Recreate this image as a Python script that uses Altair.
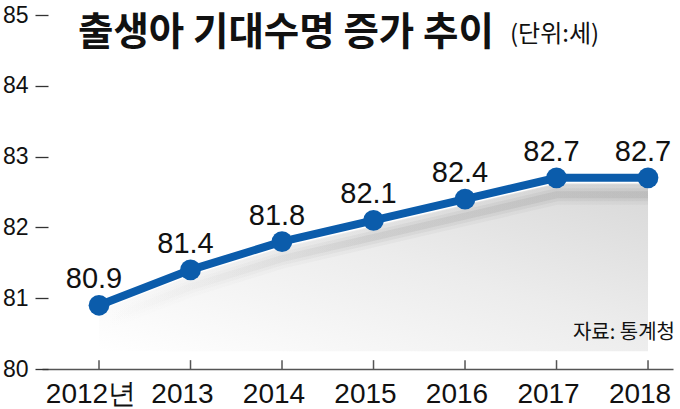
import altair as alt
import pandas as pd

years = [2012, 2013, 2014, 2015, 2016, 2017, 2018]
values = [80.9, 81.4, 81.8, 82.1, 82.4, 82.7, 82.7]
xlabels = ["2012년", "2013", "2014", "2015", "2016", "2017", "2018"]
yticks = [80, 81, 82, 83, 84, 85]

df = pd.DataFrame({"year": years, "value": values, "xlabel": xlabels})

BLUE = "#0b5cab"
NUMFONT = "Liberation Sans"
KFONT = "Noto Sans CJK KR"

xs = alt.Scale(domain=[2011.377, 2018.273], nice=False, zero=False)
ys = alt.Scale(domain=[80, 85], nice=False, zero=False)

xaxis = alt.Axis(labels=False, ticks=False, domain=True, grid=False,
                 domainColor="#555555", domainWidth=1.5, title=None)
yaxis = alt.Axis(values=yticks, domain=False, grid=False, ticks=True,
                 tickSize=13, tickColor="#333333", tickWidth=1.3, tickOpacity=1,
                 labelFont=NUMFONT, labelFontSize=23, labelColor="#111111",
                 labelPadding=7, offset=-6, title=None)

def X():
    return alt.X("year:Q", scale=xs, axis=xaxis)

def Y(field):
    return alt.Y(field, scale=ys, axis=yaxis)

base = alt.Chart(df)

area = base.transform_calculate(
    top="datum.value - 0.08", bot="80.25"
).mark_area(
    fill=alt.Gradient(
        gradient="linear", x1=1, y1=0, x2=0, y2=1,
        stops=[alt.GradientStop(color="#d8d8d8", offset=0),
               alt.GradientStop(color="#ececec", offset=0.45),
               alt.GradientStop(color="#ffffff", offset=1)],
    )
).encode(x=X(), y=Y("top:Q"), y2="bot:Q")

def shadow(width, opacity):
    return base.transform_calculate(sv="datum.value - 0.24").mark_line(
        stroke=alt.Gradient(
            gradient="linear", x1=0, y1=0, x2=1, y2=0,
            stops=[alt.GradientStop(color="#ffffff", offset=0),
                   alt.GradientStop(color="#888888", offset=0.5),
                   alt.GradientStop(color="#777777", offset=1)],
        ),
        strokeWidth=width, opacity=opacity, strokeCap="butt",
    ).encode(x=X(), y=Y("sv:Q"))

shadows = [shadow(20, 0.07), shadow(13, 0.1), shadow(7, 0.14)]

line = base.mark_line(color=BLUE, strokeWidth=8).encode(x=X(), y=Y("value:Q"))

points = base.mark_circle(size=430, color=BLUE, opacity=1).encode(
    x=X(), y=Y("value:Q")
)

labels = base.mark_text(
    font=NUMFONT, fontSize=29, color="#111111", baseline="alphabetic",
    align="center", dy=-17, dx=-5,
).encode(
    x=X(), y=Y("value:Q"),
    text=alt.Text("value:Q", format=".1f"),
)

xticks = base.transform_calculate(t0="80", t1="80.125").mark_rule(
    color="#555555", strokeWidth=1.5
).encode(x=X(), y=Y("t0:Q"), y2="t1:Q")

xlab = base.mark_text(
    font=NUMFONT, fontSize=28, color="#111111", baseline="alphabetic",
    align="center", dx=-8,
).encode(x=X(), y=alt.value(388), text="xlabel:N")

title = alt.Chart(pd.DataFrame({"t": ["출생아 기대수명 증가 추이"]})).mark_text(
    font=KFONT, fontSize=38.5, fontWeight="bold", color="#111111",
    align="left", baseline="alphabetic",
).encode(x=alt.value(36), y=alt.value(30), text="t:N")

unit = alt.Chart(pd.DataFrame({"t": ["(단위:세)"]})).mark_text(
    font=KFONT, fontSize=24, color="#111111",
    align="left", baseline="alphabetic",
).encode(x=alt.value(468), y=alt.value(27), text="t:N")

source = alt.Chart(pd.DataFrame({"t": ["자료: 통계청"]})).mark_text(
    font=KFONT, fontSize=20, color="#111111",
    align="right", baseline="alphabetic",
).encode(x=alt.value(633), y=alt.value(324), text="t:N")

chart = alt.layer(
    area, *shadows, xticks, line, points, labels, xlab, title, unit, source
).properties(
    width=631, height=354,
    autosize=alt.AutoSizeParams(type="none"),
    padding={"left": 42, "top": 15, "right": 7, "bottom": 40},
).configure(background="white").configure_view(stroke=None)

chart.save("out.html", embed_options={"renderer": "svg", "actions": False})
